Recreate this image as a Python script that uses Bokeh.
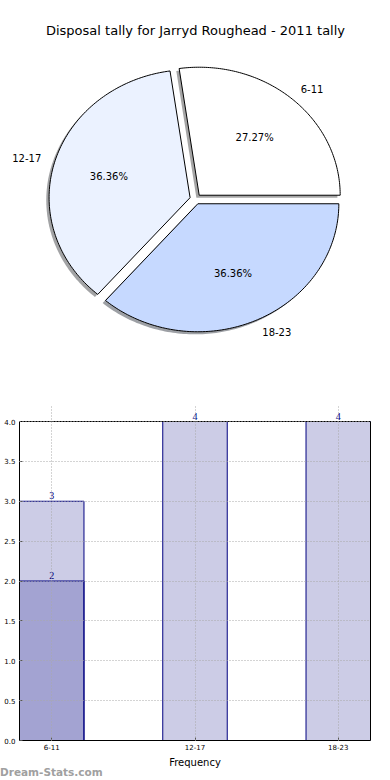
import numpy as np
from bokeh.plotting import figure
from bokeh.layouts import column
from bokeh.models import (Range1d, Label, LabelSet, ColumnDataSource, FixedTicker,
                          SingleIntervalTicker, PrintfTickFormatter, LinearAxis, Span, Div)
from bokeh.embed import file_html
from bokeh.resources import INLINE

# ---------------- data ----------------
title_text = "Disposal tally for Jarryd Roughead - 2011 tally"
categories = ["6-11", "12-17", "18-23"]
tally = [3, 4, 4]
pie_colors = ["#ffffff", "#ebf2ff", "#c6d9ff"]
overlay_categories = ["6-11"]
overlay_tally = [2]
y_max = 4
y_ticks_interval = 0.5
x_axis_label = "Frequency"
watermark = "Dream-Stats.com"

FONT = "DejaVu Sans"
W = 390

# ---------------- pie (pixel-unit data space) ----------------
RX, RY = 141.0, 128.0          # radius in px (elliptical axes)
CX, CY = 195.0, 191.4          # pie center in px (from bottom-left)
PH = 390
explode = 0.04
shadow_off = -0.02

p1 = figure(width=W, height=PH, output_backend="svg", toolbar_location=None,
            x_range=Range1d(0, W), y_range=Range1d(0, PH),
            x_axis_location=None, y_axis_location=None, match_aspect=False,
            min_border=0, min_border_left=0, min_border_right=0,
            min_border_top=0, min_border_bottom=0)
p1.grid.visible = False
p1.outline_line_color = None

vals = np.array(tally, dtype=float)
fr = vals / vals.sum()
ends = np.cumsum(fr) * 2 * np.pi
starts = ends - fr * 2 * np.pi
mids = (starts + ends) / 2

wx, wy, sx, sy, fills, shadows = [], [], [], [], [], []
for s, e, m, col in zip(starts, ends, mids, pie_colors):
    ox, oy = explode * np.cos(m), explode * np.sin(m)
    th = np.linspace(s, e, 120)
    xs = np.concatenate([[ox], ox + np.cos(th)])
    ys = np.concatenate([[oy], oy + np.sin(th)])
    wx.append(CX + RX * xs); wy.append(CY + RY * ys)
    sx.append(CX + RX * (xs + shadow_off)); sy.append(CY + RY * (ys + shadow_off))
    fills.append(col)
    r = int(col[1:3], 16); g = int(col[3:5], 16); b = int(col[5:7], 16)
    shadows.append("#%02x%02x%02x" % (int(r * 0.3), int(g * 0.3), int(b * 0.3)))

p1.patches(xs=sx, ys=sy, fill_color=shadows, fill_alpha=0.5, line_color=None)
p1.patches(xs=wx, ys=wy, fill_color=fills, line_color="black", line_width=1)

for c, f, m in zip(categories, fr, mids):
    ox, oy = explode * np.cos(m), explode * np.sin(m)
    xt, yt = ox + 1.1 * np.cos(m), oy + 1.1 * np.sin(m)
    p1.add_layout(Label(x=CX + RX * xt, y=CY + RY * yt, text=c,
                        text_align="left" if xt > 0 else "right",
                        text_baseline="middle", text_font=FONT, text_font_size="10px",
                        text_color="black"))
    p1.add_layout(Label(x=CX + RX * (ox + 0.6 * np.cos(m)), y=CY + RY * (oy + 0.6 * np.sin(m)),
                        text="%.2f%%" % (f * 100), text_align="center",
                        text_baseline="middle", text_font=FONT, text_font_size="10px",
                        text_color="black"))

p1.add_layout(Label(x=W / 2, y=PH - 30, text=title_text, text_align="center",
                    text_baseline="middle", text_font=FONT, text_font_size="13px",
                    text_color="black"))

# ---------------- bars ----------------
BH = 380
BL, BR, BT, BB = 19, 20, 15, 30
HEAD = 16                      # px of headroom above the top spine for value labels
bar_w = 0.45
idx = list(range(len(categories)))
fh = BH - BT - BB
ppy = (fh - HEAD) / y_max
xr = Range1d(-bar_w / 2, idx[-1] + bar_w / 2)
yr = Range1d(0, y_max + HEAD / ppy)

p2 = figure(width=W, height=BH, output_backend="svg", toolbar_location=None,
            x_range=xr, y_range=yr, min_border_left=BL, min_border_right=BR,
            min_border_top=BT, min_border_bottom=BB)
p2.outline_line_color = None

src = ColumnDataSource(dict(x=idx, top=tally, label=[str(v) for v in tally]))
ov_idx = [categories.index(c) for c in overlay_categories]
src2 = ColumnDataSource(dict(x=ov_idx, top=overlay_tally, label=[str(v) for v in overlay_tally]))

p2.vbar(x="x", top="top", width=bar_w, source=src, fill_color="navy", fill_alpha=0.2,
        line_color="navy", line_width=1)
p2.vbar(x="x", top="top", width=bar_w, source=src2, fill_color="navy", fill_alpha=0.2,
        line_color="navy", line_width=1)

for s in (src, src2):
    p2.add_layout(LabelSet(x="x", y="top", text="label", source=s, text_align="center",
                           text_baseline="bottom", y_offset=2, text_color="navy",
                           text_font=FONT, text_font_size="10px"))

p2.xaxis.ticker = FixedTicker(ticks=idx)
p2.xaxis.major_label_overrides = {i: c for i, c in zip(idx, categories)}
p2.yaxis.ticker = SingleIntervalTicker(interval=y_ticks_interval)
p2.yaxis.formatter = PrintfTickFormatter(format="%.1f")
p2.yaxis.bounds = (0, y_max)
p2.xaxis.axis_label = x_axis_label

right_axis = LinearAxis(bounds=(0, y_max), ticker=FixedTicker(ticks=[]))
p2.add_layout(right_axis, "right")

for ax in (p2.xaxis[0], p2.yaxis[0], right_axis):
    ax.major_label_text_font = FONT
    ax.major_label_text_color = "black"
    ax.minor_tick_line_color = None
    ax.major_tick_in = 3
    ax.major_tick_out = 0
    ax.major_tick_line_color = "#555555"
    ax.axis_line_color = "black"
    ax.axis_line_width = 1
p2.xaxis.major_label_text_font_size = "7px"
p2.yaxis[0].major_label_text_font_size = "7px"
p2.xaxis.major_label_standoff = 3
p2.yaxis[0].major_label_standoff = 0
p2.xaxis.axis_label_text_font = FONT
p2.xaxis.axis_label_text_font_size = "10px"
p2.xaxis.axis_label_text_font_style = "normal"
p2.xaxis.axis_label_text_color = "black"
p2.xaxis.axis_label_standoff = 4

p2.add_layout(Span(location=y_max, dimension="width", line_color="black", line_width=1))

for g in (p2.xgrid, p2.ygrid):
    g.grid_line_color = "#a8a8a8"
    g.grid_line_dash = "1 2"
    g.grid_line_width = 1
    g.level = "overlay"
p2.ygrid.ticker = SingleIntervalTicker(interval=y_ticks_interval)
p2.xgrid.ticker = FixedTicker(ticks=idx)
p2.xgrid.bounds = (0, y_max)

wm = Div(text=('<div style="position:relative; top:-6px; left:0px; white-space:nowrap; '
               'font-family:\'DejaVu Sans\'; font-weight:bold; font-size:10.5px; '
               'line-height:12px; color:#a0a0a0;">%s</div>' % watermark),
         width=W, height=10, margin=0)

# separate roots so that the pie frame is not aligned to the bar chart's frame
bottom = column(p2, wm, spacing=0, margin=0)
open("out.html", "w").write(file_html([p1, bottom], INLINE))
